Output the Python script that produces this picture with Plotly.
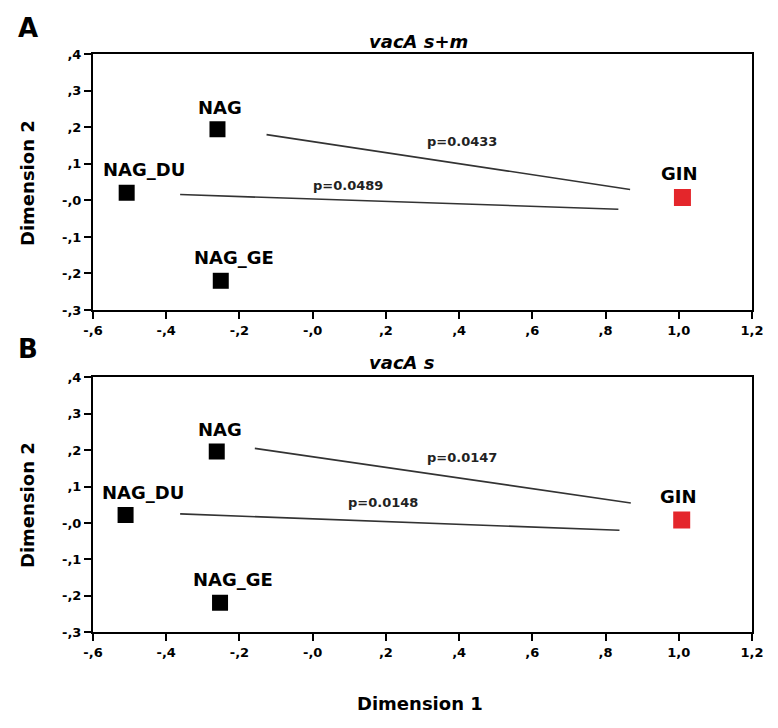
import plotly.graph_objects as go

# ---- data ----
groups = ["NAG", "NAG_DU", "NAG_GE", "GIN"]
colors = ["#000000", "#000000", "#000000", "#e4262b"]

a_x = [-0.260, -0.508, -0.251, 1.010]
a_y = [0.195, 0.021, -0.220, 0.008]
b_x = [-0.262, -0.511, -0.253, 1.008]
b_y = [0.196, 0.022, -0.219, 0.008]

# significance connector lines: (x0, y0, x1, y1)
a_lines_x0 = [-0.126, -0.362]
a_lines_y0 = [0.180, 0.016]
a_lines_x1 = [0.867, 0.835]
a_lines_y1 = [0.030, -0.024]
a_pvals = ["p=0.0433", "p=0.0489"]
a_p_x = [0.409, 0.097]
a_p_y = [0.161, 0.040]

b_lines_x0 = [-0.158, -0.362]
b_lines_y0 = [0.205, 0.025]
b_lines_x1 = [0.869, 0.838]
b_lines_y1 = [0.055, -0.020]
b_pvals = ["p=0.0147", "p=0.0148"]
b_p_x = [0.409, 0.193]
b_p_y = [0.180, 0.056]

x_tickvals = [-0.6, -0.4, -0.2, 0.0, 0.2, 0.4, 0.6, 0.8, 1.0, 1.2]
x_ticktext = ["-,6", "-,4", "-,2", "-,0", ",2", ",4", ",6", ",8", "1,0", "1,2"]
y_tickvals = [0.4, 0.3, 0.2, 0.1, 0.0, -0.1, -0.2, -0.3]
y_ticktext = [",4", ",3", ",2", ",1", "-,0", "-,1", "-,2", "-,3"]

# ---- styling ----
W, H = 778, 728
FONT = "DejaVu Sans"
label_shift = {"NAG": (3, 22), "NAG_DU": (17, 23), "NAG_GE": (13, 23), "GIN": (-3, 24)}
marker_sizes = [16, 16, 16, 17]

fig = go.Figure()
annotations = []

panels = [
    ("x", "y", a_x, a_y, (a_lines_x0, a_lines_y0, a_lines_x1, a_lines_y1), a_pvals, a_p_x, a_p_y),
    ("x2", "y2", b_x, b_y, (b_lines_x0, b_lines_y0, b_lines_x1, b_lines_y1), b_pvals, b_p_x, b_p_y),
]

for xa, ya, px, py, lines, pv, pvx, pvy in panels:
    x0s, y0s, x1s, y1s = lines
    for i in range(len(x0s)):
        fig.add_trace(go.Scatter(x=[x0s[i], x1s[i]], y=[y0s[i], y1s[i]], mode="lines",
                                 line=dict(color="#333333", width=1.6),
                                 xaxis=xa, yaxis=ya, showlegend=False, hoverinfo="skip"))
    fig.add_trace(go.Scatter(x=px, y=py, mode="markers",
                             marker=dict(symbol="square", size=marker_sizes, color=colors,
                                         opacity=1, line=dict(width=0)),
                             xaxis=xa, yaxis=ya, showlegend=False, text=groups))
    for g, xv, yv in zip(groups, px, py):
        dx, dy = label_shift[g]
        annotations.append(dict(x=xv, y=yv, xref=xa, yref=ya, text=g, showarrow=False,
                                xshift=dx, yshift=dy,
                                font=dict(family=FONT, size=18, color="#000", weight="bold")))
    for t, xv, yv in zip(pv, pvx, pvy):
        annotations.append(dict(x=xv, y=yv, xref=xa, yref=ya, text=t, showarrow=False,
                                font=dict(family=FONT, size=13, color="#222", weight="bold")))

def paper_x(px_):
    return px_ / W

def paper_y(py_):
    return 1 - py_ / H

# titles, panel letters, axis titles
annotations += [
    dict(x=paper_x(367), y=paper_y(41), xref="paper", yref="paper", xanchor="left", yanchor="middle",
         text="<b><i>vacA s+m</i></b>", showarrow=False, font=dict(family=FONT, size=18, color="#000")),
    dict(x=paper_x(367), y=paper_y(362), xref="paper", yref="paper", xanchor="left", yanchor="middle",
         text="<b><i>vacA s</i></b>", showarrow=False, font=dict(family=FONT, size=18, color="#000")),
    dict(x=paper_x(27.5), y=paper_y(28), xref="paper", yref="paper", xanchor="center", yanchor="middle",
         text="<b>A</b>", showarrow=False, font=dict(family=FONT, size=26, color="#000")),
    dict(x=paper_x(27.5), y=paper_y(349), xref="paper", yref="paper", xanchor="center", yanchor="middle",
         text="<b>B</b>", showarrow=False, font=dict(family=FONT, size=26, color="#000")),
    dict(x=paper_x(27), y=paper_y(183), xref="paper", yref="paper", xanchor="center", yanchor="middle",
         text="<b>Dimension 2</b>", textangle=-90, showarrow=False, font=dict(family=FONT, size=18, color="#000")),
    dict(x=paper_x(27), y=paper_y(505), xref="paper", yref="paper", xanchor="center", yanchor="middle",
         text="<b>Dimension 2</b>", textangle=-90, showarrow=False, font=dict(family=FONT, size=18, color="#000")),
    dict(x=paper_x(420), y=paper_y(703), xref="paper", yref="paper", xanchor="center", yanchor="middle",
         text="<b>Dimension 1</b>", showarrow=False, font=dict(family=FONT, size=18, color="#000")),
]

x_dom = [paper_x(93), paper_x(752)]
tickfont = dict(family=FONT, size=13, color="#000", weight="bold")
common_x = dict(range=[-0.6, 1.2], tickvals=x_tickvals, ticktext=x_ticktext, showgrid=False,
                zeroline=False, showline=True, linecolor="#000", linewidth=2, mirror=True,
                ticks="outside", ticklen=7, tickwidth=2, tickcolor="#000", tickfont=tickfont,
                domain=x_dom, automargin=False)
common_y = dict(range=[-0.3, 0.4], tickvals=y_tickvals, ticktext=y_ticktext, showgrid=False,
                zeroline=False, showline=True, linecolor="#000", linewidth=2, mirror=True,
                ticks="outside", ticklen=7, tickwidth=2, tickcolor="#000", tickfont=tickfont,
                automargin=False)

fig.update_layout(
    width=W, height=H,
    margin=dict(l=0, r=0, t=0, b=0, autoexpand=False),
    paper_bgcolor="white", plot_bgcolor="white",
    xaxis=dict(common_x, anchor="y"),
    yaxis=dict(common_y, anchor="x", domain=[paper_y(310), paper_y(54.3)]),
    xaxis2=dict(common_x, anchor="y2"),
    yaxis2=dict(common_y, anchor="x2", domain=[paper_y(632.3), paper_y(377.3)]),
    annotations=annotations,
    showlegend=False,
)

fig.write_html("out.html", config={"displayModeBar": False},
               post_script="document.body.style.margin='0px';")
